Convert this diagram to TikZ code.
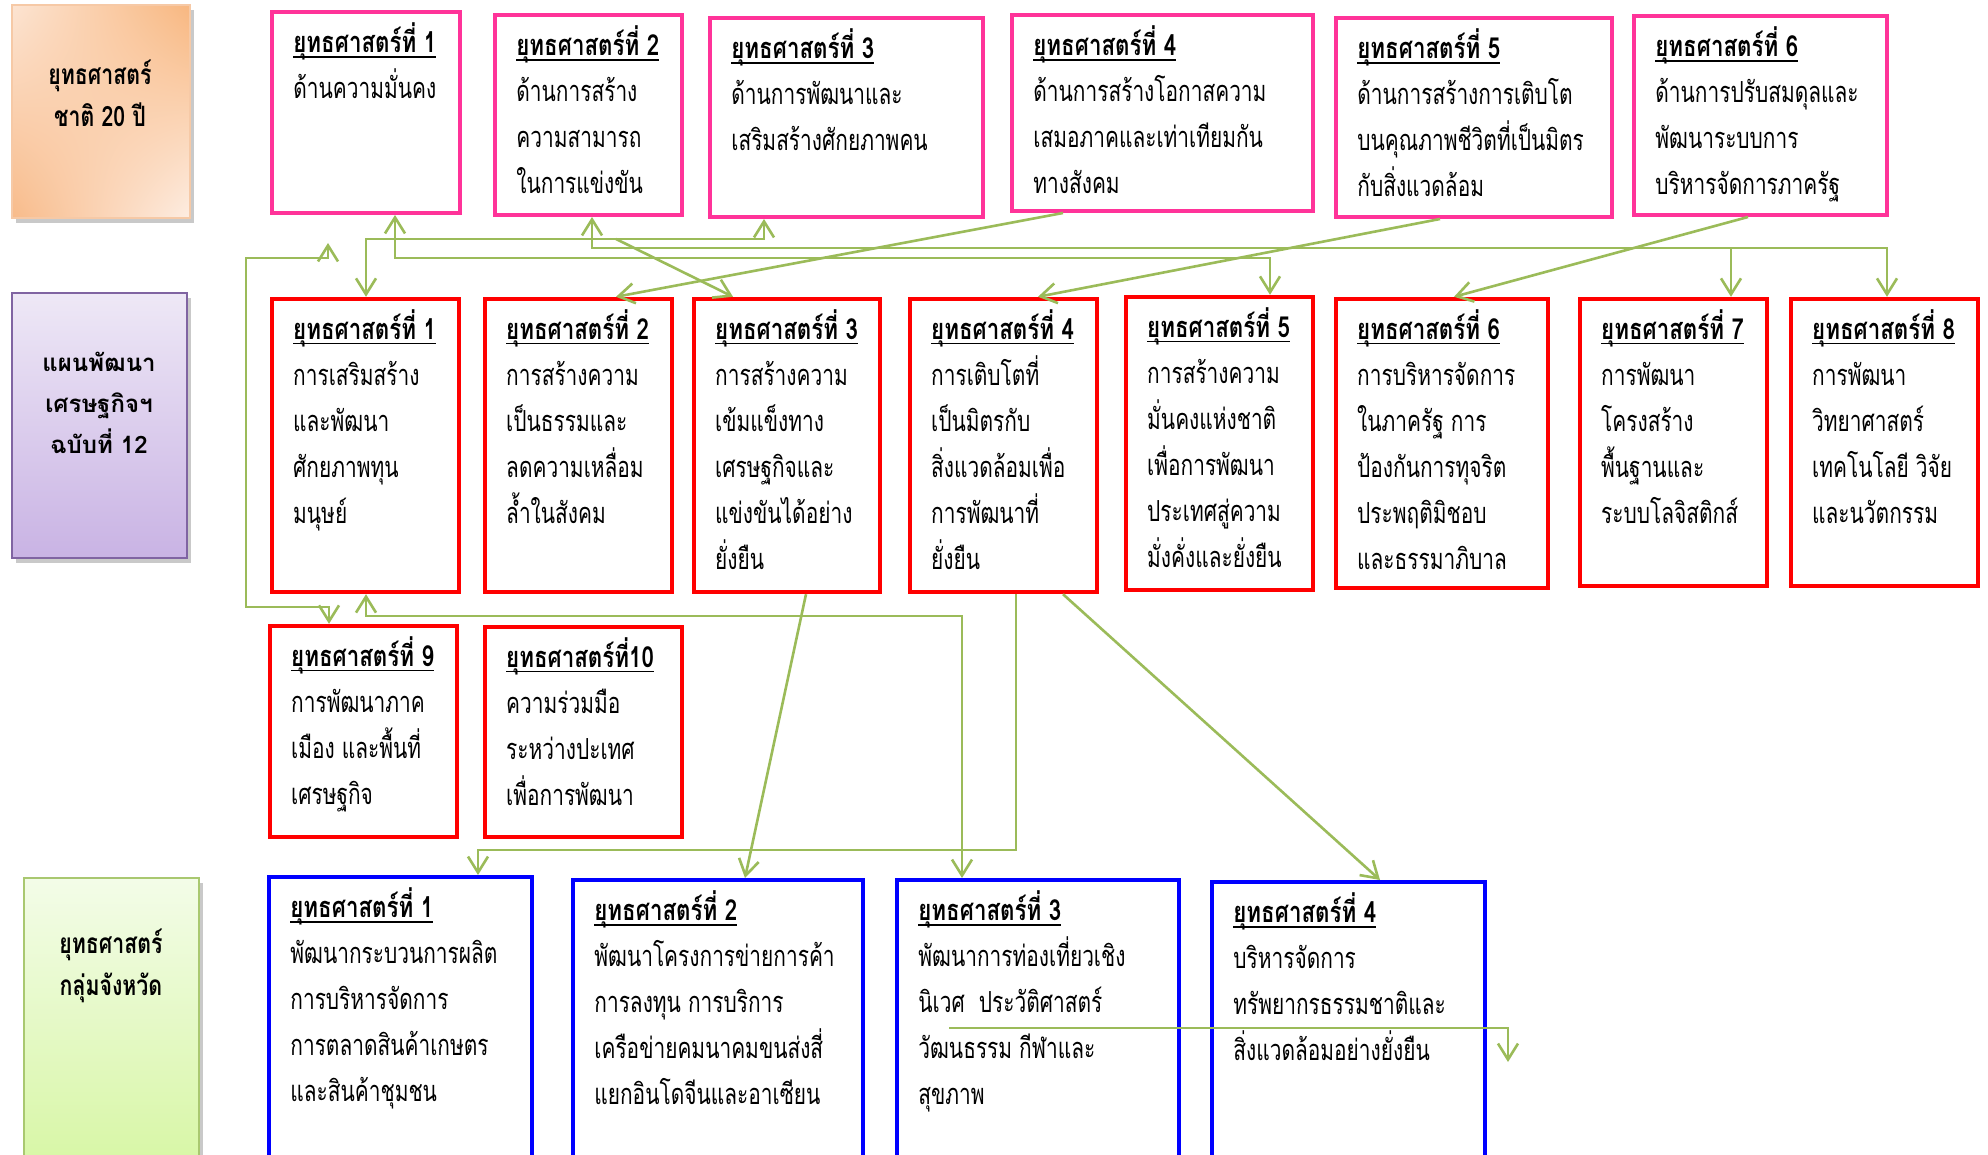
\documentclass[tikz,border=0pt]{standalone}
\usepackage{fontspec}
\newfontfamily\thai[Script=Thai,FakeStretch=0.72]{Loma}
\newfontfamily\thaib[Script=Thai,FakeStretch=0.77]{Loma}
\newfontfamily\thail[Script=Thai,FakeStretch=0.76]{Loma}
\newfontfamily\thaiw[Script=Thai]{Loma}
\usetikzlibrary{arrows.meta,fit,shadows,shadings}
\definecolor{pinkc}{HTML}{FF3399}
\definecolor{redc}{HTML}{FF0000}
\definecolor{bluec}{HTML}{0000FF}
\definecolor{conc}{HTML}{9BBB59}
\definecolor{orA}{HTML}{FCE4D2}
\definecolor{orB}{HTML}{F8B780}
\definecolor{orC}{HTML}{F8BB8A}
\definecolor{orD}{HTML}{FDEDE2}
\definecolor{orE}{HTML}{F6C9A6}
\definecolor{puA}{HTML}{EEE8F6}
\definecolor{puB}{HTML}{C9B3E4}
\definecolor{puE}{HTML}{8064A2}
\definecolor{grA}{HTML}{F3FCE8}
\definecolor{grB}{HTML}{D6F6A2}
\definecolor{grE}{HTML}{A9C870}
\newcommand\mkhdr[1]{\setbox0\hbox{\thaib\bfseries #1}\rlap{\rule[-2.6pt]{\wd0}{0.7pt}}\box0}
\newcommand\boxtext[3]{\node[txt] (#1t) at ([xshift=11.5pt,yshift=-4pt]#1.north west) {\rule{0pt}{17pt}\mkhdr{#2}\\#3};}
\begin{document}
\begin{tikzpicture}[x=0.5pt,y=-0.5pt,
  >={Straight Barb[length=8pt,width=10pt]},
  pinkbox/.style={draw=pinkc, line width=2pt, inner sep=0pt},
  redbox/.style={draw=redc, line width=2.2pt, inner sep=0pt},
  bluebox/.style={draw=bluec, line width=2pt, inner sep=0pt},
  txt/.style={anchor=north west, inner sep=0pt, align=left, font=\thai\fontsize{14.5}{23}\selectfont},
  lbl/.style={inner sep=0pt, align=center, font=\thail\bfseries\fontsize{14}{21}\selectfont},
  lblw/.style={inner sep=0pt, align=center, font=\thaiw\bfseries\fontsize{12}{20.5}\selectfont},
  shad/.style={drop shadow={shadow xshift=2pt, shadow yshift=-2.5pt, opacity=0.35, fill=black!60}},
  conn/.style={draw=conc, line width=1.3pt, line join=miter}]
\useasboundingbox (0,0) rectangle (1988,1155);
\clip (0,0) rectangle (1988,1155);
\fill[white] (0,0) rectangle (1988,1155);

% left label boxes
\node[shad, draw=orE, line width=0.8pt, inner sep=0pt, upper left=orA, upper right=orB, lower left=orC, lower right=orD, fit={(12,5) (190,218)}] (ys) {};
\node[lbl] (yst) at (100,93) {ยุทธศาสตร์\\ชาติ 20 ปี};
\node[shad, draw=puE, line width=1.2pt, inner sep=0pt, top color=puA, bottom color=puB, fit={(12,293) (187,558)}] (pl) {};
\node[lblw] (plt) at (99,403) {แผนพัฒนา\\เศรษฐกิจฯ\\ฉบับที่ 12};
\node[shad, draw=grE, line width=1pt, inner sep=0pt, top color=grA, bottom color=grB, fit={(24,878) (199,1180)}] (gr) {};
\node[lbl] (grt) at (111,966) {ยุทธศาสตร์\\กลุ่มจังหวัด};

% pink boxes
\node[pinkbox, fit={(272,12) (460,213)}] (p1) {};
\node[pinkbox, fit={(495,15) (682,215)}] (p2) {};
\node[pinkbox, fit={(710,18) (983,217)}] (p3) {};
\node[pinkbox, fit={(1012,15) (1313,211)}] (p4) {};
\node[pinkbox, fit={(1336,18) (1612,217)}] (p5) {};
\node[pinkbox, fit={(1634,16) (1887,215)}] (p6) {};
\boxtext{p1}{ยุทธศาสตร์ที่ 1}{ด้านความมั่นคง}
\boxtext{p2}{ยุทธศาสตร์ที่ 2}{ด้านการสร้าง\\ความสามารถ\\ในการแข่งขัน}
\boxtext{p3}{ยุทธศาสตร์ที่ 3}{ด้านการพัฒนาและ\\เสริมสร้างศักยภาพคน}
\boxtext{p4}{ยุทธศาสตร์ที่ 4}{ด้านการสร้างโอกาสความ\\เสมอภาคและเท่าเทียมกัน\\ทางสังคม}
\boxtext{p5}{ยุทธศาสตร์ที่ 5}{ด้านการสร้างการเติบโต\\บนคุณภาพชีวิตที่เป็นมิตร\\กับสิ่งแวดล้อม}
\boxtext{p6}{ยุทธศาสตร์ที่ 6}{ด้านการปรับสมดุลและ\\พัฒนาระบบการ\\บริหารจัดการภาครัฐ}

% red boxes
\node[redbox, fit={(272,299) (459,592)}] (r1) {};
\node[redbox, fit={(485,299) (672,592)}] (r2) {};
\node[redbox, fit={(694,299) (880,592)}] (r3) {};
\node[redbox, fit={(910,299) (1097,592)}] (r4) {};
\node[redbox, fit={(1126,297) (1313,590)}] (r5) {};
\node[redbox, fit={(1336,299) (1548,588)}] (r6) {};
\node[redbox, fit={(1580,299) (1767,586)}] (r7) {};
\node[redbox, fit={(1791,299) (1978,586)}] (r8) {};
\node[redbox, fit={(270,626) (457,837)}] (r9) {};
\node[redbox, fit={(485,627) (682,837)}] (r10) {};
\boxtext{r1}{ยุทธศาสตร์ที่ 1}{การเสริมสร้าง\\และพัฒนา\\ศักยภาพทุน\\มนุษย์}
\boxtext{r2}{ยุทธศาสตร์ที่ 2}{การสร้างความ\\เป็นธรรมและ\\ลดความเหลื่อม\\ล้ำในสังคม}
\boxtext{r3}{ยุทธศาสตร์ที่ 3}{การสร้างความ\\เข้มแข็งทาง\\เศรษฐกิจและ\\แข่งขันได้อย่าง\\ยั่งยืน}
\boxtext{r4}{ยุทธศาสตร์ที่ 4}{การเติบโตที่\\เป็นมิตรกับ\\สิ่งแวดล้อมเพื่อ\\การพัฒนาที่\\ยั่งยืน}
\boxtext{r5}{ยุทธศาสตร์ที่ 5}{การสร้างความ\\มั่นคงแห่งชาติ\\เพื่อการพัฒนา\\ประเทศสู่ความ\\มั่งคั่งและยั่งยืน}
\boxtext{r6}{ยุทธศาสตร์ที่ 6}{การบริหารจัดการ\\ในภาครัฐ การ\\ป้องกันการทุจริต\\ประพฤติมิชอบ\\และธรรมาภิบาล}
\boxtext{r7}{ยุทธศาสตร์ที่ 7}{การพัฒนา\\โครงสร้าง\\พื้นฐานและ\\ระบบโลจิสติกส์}
\boxtext{r8}{ยุทธศาสตร์ที่ 8}{การพัฒนา\\วิทยาศาสตร์\\เทคโนโลยี วิจัย\\และนวัตกรรม}
\boxtext{r9}{ยุทธศาสตร์ที่ 9}{การพัฒนาภาค\\เมือง และพื้นที่\\เศรษฐกิจ}
\boxtext{r10}{ยุทธศาสตร์ที่10}{ความร่วมมือ\\ระหว่างปะเทศ\\เพื่อการพัฒนา}

% blue boxes
\node[bluebox, fit={(269,877) (532,1180)}] (b1) {};
\node[bluebox, fit={(573,880) (863,1180)}] (b2) {};
\node[bluebox, fit={(897,880) (1179,1180)}] (b3) {};
\node[bluebox, fit={(1212,882) (1485,1180)}] (b4) {};
\boxtext{b1}{ยุทธศาสตร์ที่ 1}{พัฒนากระบวนการผลิต\\การบริหารจัดการ\\การตลาดสินค้าเกษตร\\และสินค้าชุมชน}
\boxtext{b2}{ยุทธศาสตร์ที่ 2}{พัฒนาโครงการข่ายการค้า\\การลงทุน การบริการ\\เครือข่ายคมนาคมขนส่งสี่\\แยกอินโดจีนและอาเซียน}
\boxtext{b3}{ยุทธศาสตร์ที่ 3}{พัฒนาการท่องเที่ยวเชิง\\นิเวศ\ \ ประวัติศาสตร์\\วัฒนธรรม กีฬาและ\\สุขภาพ}
\boxtext{b4}{ยุทธศาสตร์ที่ 4}{บริหารจัดการ\\ทรัพยากรธรรมชาติและ\\สิ่งแวดล้อมอย่างยั่งยืน}

% connectors
\coordinate (ca) at (328,243);
\draw[conn,<->] (ca) -- (328,258) -- (246,258) -- (246,607) -- (329,607) -- (r9.north -| 329,0);
\draw[conn,<->] (p1.south -| 395,0) -- (395,258) -- (1270,258) -- (r5.north -| 1270,0);
\draw[conn,<->] (p3.south -| 764,0) -- (764,239) -- (366,239) -- (r1.north -| 366,0);
\coordinate (cb) at (616,239);
\draw[conn,->] (cb) -- (r3.north -| 733,0);
\draw[conn,<->] (p2.south -| 592,0) -- (592,248) -- (1887,248) -- (r8.north -| 1887,0);
\coordinate (cc) at (1731,248);
\draw[conn,->] (cc) -- (r7.north -| 1731,0);
\draw[conn,->] (p4.south -| 1063,0) -- (r2.north -| 616,0);
\draw[conn,->] (p5.south -| 1440,0) -- (r4.north -| 1038,0);
\draw[conn,->] (p6.south -| 1748,0) -- (r6.north -| 1454,0);
\draw[conn,<->] (r1.south -| 366,0) -- (366,616) -- (962,616) -- (b3.north -| 962,0);
\draw[conn,->] (r4.south -| 1016,0) -- (1016,850) -- (478,850) -- (b1.north -| 478,0);
\draw[conn,->] (r3.south -| 806,0) -- (b2.north -| 745,0);
\draw[conn,->] (r4.south -| 1063,0) -- (b4.north -| 1380,0);
\coordinate (cd) at (949,1028);
\coordinate (ce) at (1508,1062);
\draw[conn,->] (cd) -- (1508,1028) -- (ce);
\end{tikzpicture}
\end{document}
